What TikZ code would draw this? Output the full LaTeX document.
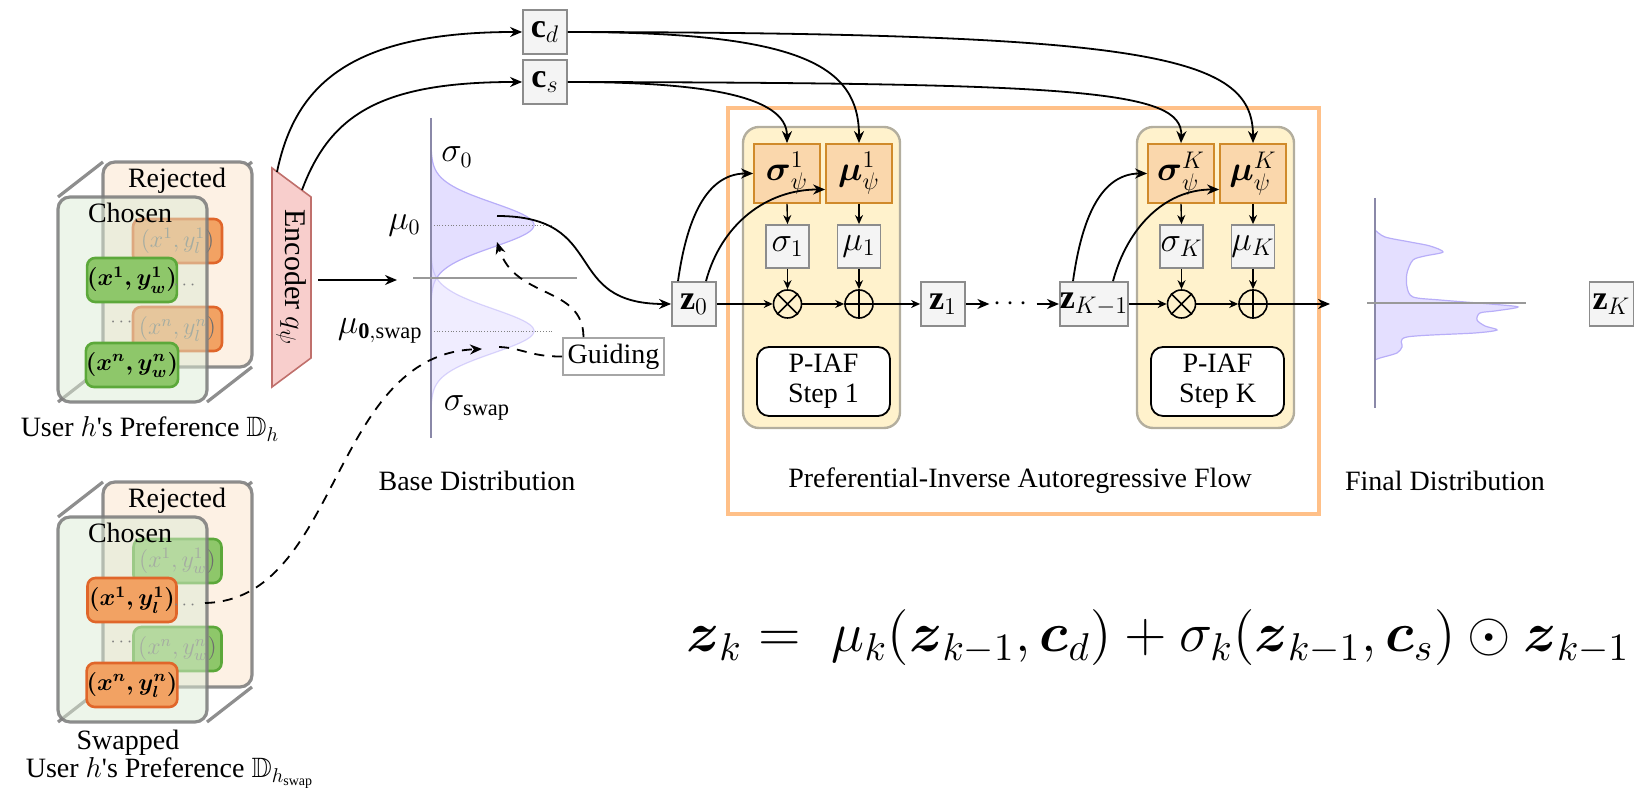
\documentclass[tikz,border=0pt]{standalone}
\usepackage{amsmath,amssymb}
\usepackage{graphicx}
\usepackage{fontspec}
\setmainfont{Liberation Serif}
\usetikzlibrary{arrows.meta,calc}
\definecolor{boxgray}{HTML}{8C8C8C}
\definecolor{boxfill}{HTML}{F4F4F4}
\definecolor{obrd}{HTML}{D08A2A}
\definecolor{ofill}{HTML}{FAD7AC}
\definecolor{stepfill}{HTML}{FFF2CC}
\definecolor{stepbrd}{HTML}{B3AE9E}
\definecolor{flowc}{HTML}{FFC088}
\definecolor{lav}{HTML}{E4DFFF}
\definecolor{lavedge}{HTML}{B8AEF8}
\definecolor{axisc}{HTML}{8A88A8}
\definecolor{encfill}{HTML}{F8CECC}
\definecolor{encbrd}{HTML}{C0706C}
\definecolor{facegray}{HTML}{7A7A7A}
\definecolor{backfill}{HTML}{FDF1E4}
\definecolor{frontfill}{HTML}{DCEBD5}
\definecolor{pairofill}{HTML}{F2A263}
\definecolor{pairobrd}{HTML}{E0662A}
\definecolor{pairgfill}{HTML}{8EC76A}
\definecolor{pairgbrd}{HTML}{5CA83A}
\definecolor{backtext}{HTML}{6E6E6E}
\begin{document}
\begin{tikzpicture}[x=0.5pt,y=0.5pt,
  font=\fontsize{14}{16}\selectfont,
  arr/.style={-{Stealth[length=6pt,width=5pt]}, line width=0.9pt},
  sarr/.style={-{Stealth[length=4.5pt,width=4pt]}, line width=0.7pt},
  dsh/.style={dash pattern=on 5pt off 4pt, line width=0.9pt},
  gbox/.style={draw=boxgray, fill=boxfill, line width=0.9pt, inner sep=0pt, minimum width=22pt, minimum height=22pt, font=\fontsize{17}{19}\selectfont},
  obox/.style={draw=obrd, fill=ofill, line width=0.9pt, inner sep=0pt, minimum width=33pt, minimum height=29.5pt, font=\fontsize{17}{19}\selectfont},
  ibox/.style={gbox, minimum width=21.5pt, minimum height=21.5pt},
  opcirc/.style={circle, draw, line width=0.8pt, minimum size=14pt, inner sep=0pt},
  stepblk/.style={draw=stepbrd, fill=stepfill, line width=1.2pt, rounded corners=8pt, minimum width=78.5pt, minimum height=150.5pt},
  pbox/.style={draw, fill=white, line width=0.9pt, rounded corners=6pt, minimum width=66.5pt, minimum height=34.5pt, align=center, inner sep=0pt, font=\fontsize{14}{15}\selectfont},
  face/.style={line width=1.6pt, draw=facegray, draw opacity=0.85},
  pairo/.style={draw=pairobrd, fill=pairofill, line width=1.3pt, rounded corners=4pt, minimum width=44.5pt, minimum height=22pt, inner sep=0pt, font=\fontsize{12}{14}\selectfont},
  pairg/.style={draw=pairgbrd, fill=pairgfill, line width=1.3pt, rounded corners=4pt, minimum width=44pt, minimum height=22pt, inner sep=0pt, font=\fontsize{12}{14}\selectfont},
  mlabel/.style={font=\fontsize{16}{18}\selectfont, inner sep=1pt},
  flowframe/.style={draw=flowc, line width=1.6pt}
]
\useasboundingbox (0,0) rectangle (1637,795);

% ---------- Cube 1 ----------
\draw[face] (58,598) -- (103,633);
\draw[face] (207,598) -- (252,633);
\draw[face] (207,393) -- (252,428);
\draw[face] (58,393) -- (103,428);
\filldraw[face, fill=backfill, rounded corners=6pt] (103,428) rectangle (252,633);
\node (rej1) at (177,614) {Rejected};
\node[pairo, text=backtext] (b11) at (177.5,554) {$(x^1, y_l^1)$};
\node[pairo, text=backtext] (b12) at (177.5,466) {$(x^n, y_l^n)$};
\filldraw[face, fill=frontfill, fill opacity=0.5, rounded corners=6pt] (58,393) rectangle (207,598);
\node (cho1) at (130,582) {Chosen};
\node[pairg] (f11) at (132,515) {$\boldsymbol{(x^1, y_w^1)}$};
\node[pairg] (f12) at (132,430) {$\boldsymbol{(x^n, y_w^n)}$};
\node[text=gray, font=\fontsize{9}{10}\selectfont, inner sep=1pt] (d11) at (186,510) {$\cdots$};
\node[text=gray, font=\fontsize{9}{10}\selectfont, inner sep=1pt] (d12) at (123,473) {$\cdots$};
\node (lab1) at (150,366) {User $h$\textquotesingle s Preference $\mathbb{D}_h$};

% ---------- Cube 2 ----------
\draw[face] (58,278) -- (103,313);
\draw[face] (207,278) -- (252,313);
\draw[face] (207,73) -- (252,108);
\draw[face] (58,73) -- (103,108);
\filldraw[face, fill=backfill, rounded corners=6pt] (103,108) rectangle (252,313);
\node (rej2) at (177,294) {Rejected};
\node[pairg, text=backtext] (b21) at (177.5,234) {$(x^1, y_w^1)$};
\node[pairg, text=backtext] (b22) at (177.5,146) {$(x^n, y_w^n)$};
\filldraw[face, fill=frontfill, fill opacity=0.5, rounded corners=6pt] (58,73) rectangle (207,278);
\node (cho2) at (130,262) {Chosen};
\node[pairo] (f21) at (132,195) {$\boldsymbol{(x^1, y_l^1)}$};
\node[pairo] (f22) at (132,110) {$\boldsymbol{(x^n, y_l^n)}$};
\node[text=gray, font=\fontsize{9}{10}\selectfont, inner sep=1pt] (d21) at (186,190) {$\cdots$};
\node[text=gray, font=\fontsize{9}{10}\selectfont, inner sep=1pt] (d22) at (123,153) {$\cdots$};
\node (sw2) at (128,52) {Swapped};
\node (lab2) at (170,22) {User $h$\textquotesingle s Preference $\mathbb{D}_{h_{\mathrm{swap}}}$};

% ---------- Encoder ----------
\filldraw[fill=encfill, draw=encbrd, line width=0.8pt] (272,627) -- (311,598) -- (311,437) -- (272,408) -- cycle;
\node[rotate=-90, font=\fontsize{15}{17}\selectfont] (enc) at (291.5,517.5) {Encoder $q_\psi$};
\coordinate (e1) at (277,623);
\coordinate (e2) at (302,605);
\coordinate (encout) at (318,515);
\coordinate (bdin) at (397,515);
\draw[arr] (encout) -- (bdin);

% ---------- c boxes ----------
\node[gbox] (cd) at (545,763) {$\mathbf{c}_d$};
\node[gbox] (cs) at (545,713) {$\mathbf{c}_s$};
\draw[arr] (e1) .. controls (295,710) and (350,763) .. (cd.west);
\draw[arr] (e2) .. controls (330,680) and (380,713) .. (cs.west);

% ---------- Base distribution ----------
\fill[lav] (431,495) -- plot[domain=495:645, samples=80] ({431+103*exp(-((\x-570)^2)/968)}, \x) -- (431,645) -- cycle;
\draw[lavedge, line width=0.6pt] plot[domain=495:645, samples=80] ({431+103*exp(-((\x-570)^2)/968)}, \x);
\fill[lav, fill opacity=0.55] (431,389) -- plot[domain=389:539, samples=80] ({431+103*exp(-((\x-464)^2)/968)}, \x) -- (431,539) -- cycle;
\draw[lavedge, draw opacity=0.5, line width=0.6pt] plot[domain=389:539, samples=80] ({431+103*exp(-((\x-464)^2)/968)}, \x);
\draw[gray, line width=0.4pt, densely dotted] (431,570) -- (552,570);
\draw[gray, line width=0.4pt, densely dotted] (431,464) -- (552,464);
\draw[axisc, line width=0.9pt] (431,677) -- (431,357);
\draw[gray!80, line width=0.9pt] (413,517) -- (577,517);
\node[mlabel, anchor=east] (mu0) at (423,570) {$\mu_0$};
\node[mlabel, anchor=east] (mu0s) at (425,464) {$\mu_{\mathbf{0,}\mathrm{swap}}$};
\node[mlabel] (sig0) at (457,638) {$\sigma_0$};
\node[mlabel] (sigs) at (477,387) {$\sigma_{\mathrm{swap}}$};
\node (bdl) at (477,314) {Base Distribution};
\coordinate (g0) at (497,579);

% Guiding
\node[draw=gray!70, fill=white, line width=0.8pt, minimum width=50.5pt, minimum height=18.5pt, inner sep=0pt] (guid) at (613.5,438.5) {Guiding};
\coordinate (gtip) at (497,553);
\coordinate (gend) at (497,448);
\draw[dsh, -{Stealth[length=6pt,width=5pt]}] ([xshift=-15pt]guid.north) .. controls (583,510) and (515,495) .. (gtip);
\draw[dsh] (guid.west) .. controls (530,438) and (520,448) .. (gend);
\coordinate (swst) at (205,192);
\coordinate (swtip) at (482,446);
\draw[dsh, -{Stealth[length=6pt,width=5pt]}] (swst) .. controls (340,195) and (330,440) .. (swtip);

% ---------- z0 ----------
\node[gbox] (z0) at (694,491) {$\mathbf{z}_0$};
\draw[arr] (g0) .. controls (610,579) and (560,491) .. (z0.west);

% ---------- Flow frame ----------
\draw[flowframe] (728,687) rectangle (1319,281);
\node (flowl) at (1020,314) {Preferential-Inverse Autoregressive Flow};

% Step 1
\node[stepblk] (st1) at (821.5,517.5) {};
\node[obox] (s1) at (787,621.5) {$\boldsymbol{\sigma}_\psi^1$};
\node[obox] (mp1) at (859,621.5) {$\boldsymbol{\mu}_\psi^1$};
\node[ibox] (sg1) at (787.5,548.5) {$\sigma_1$};
\node[ibox] (mu1) at (859,548.5) {$\mu_1$};
\node[opcirc] (x1) at (787.5,491) {};
\node[opcirc] (p1) at (859,491) {};
\draw[line width=0.8pt] (x1.north east) -- (x1.south west) (x1.north west) -- (x1.south east);
\draw[line width=0.8pt] (p1.north) -- (p1.south) (p1.west) -- (p1.east);
\node[pbox] (pf1) at (823.5,413.5) {P-IAF\\Step 1};
\draw[sarr] (s1.south) -- (sg1.north);
\draw[sarr] (mp1.south) -- (mu1.north);
\draw[sarr] (sg1.south) -- (x1.north);
\draw[sarr] (mu1.south) -- (p1.north);
\draw[sarr] (z0.east) -- (x1.west);
\draw[sarr] (x1.east) -- (p1.west);

% Step K
\node[stepblk] (stK) at (1215.5,517.5) {};
\node[obox] (sK) at (1181,621.5) {$\boldsymbol{\sigma}_\psi^K$};
\node[obox] (mpK) at (1253,621.5) {$\boldsymbol{\mu}_\psi^K$};
\node[ibox] (sgK) at (1181.5,548.5) {$\sigma_K$};
\node[ibox] (muK) at (1253,548.5) {$\mu_K$};
\node[opcirc] (xK) at (1181.5,491) {};
\node[opcirc] (pK) at (1253,491) {};
\draw[line width=0.8pt] (xK.north east) -- (xK.south west) (xK.north west) -- (xK.south east);
\draw[line width=0.8pt] (pK.north) -- (pK.south) (pK.west) -- (pK.east);
\node[pbox] (pfK) at (1217.5,413.5) {P-IAF\\Step K};
\draw[sarr] (sK.south) -- (sgK.north);
\draw[sarr] (mpK.south) -- (muK.north);
\draw[sarr] (sgK.south) -- (xK.north);
\draw[sarr] (muK.south) -- (pK.north);
\draw[sarr] (xK.east) -- (pK.west);

% z chain
\node[gbox] (z1) at (943,491) {$\mathbf{z}_1$};
\node[inner sep=2pt] (dots) at (1013,491) {$\cdots$};
\node[gbox, minimum width=33pt] (zk1) at (1094,491) {$\mathbf{z}_{K-1}$};
\draw[sarr] (p1.east) -- (z1.west);
\draw[arr] (z1.east) -- (dots.west);
\draw[arr] (dots.east) -- (zk1.west);
\draw[sarr] (zk1.east) -- (xK.west);
\coordinate (outK) at (1330,491);
\draw[arr] (pK.east) -- (outK);

% z -> psi boxes
\draw[arr] ([xshift=-8pt]z0.north) to[out=82, in=180] (s1.west);
\draw[arr] ([xshift=6pt]z0.north) to[out=75, in=180] ([yshift=-8pt]mp1.west);
\draw[arr] ([xshift=-10.5pt]zk1.north) to[out=82, in=180] (sK.west);
\draw[arr] ([xshift=9.5pt]zk1.north) to[out=75, in=180] ([yshift=-8pt]mpK.west);

% c -> psi boxes
\draw[arr] (cs.east) .. controls (700,713) and (787,700) .. (s1.north);
\draw[arr] (cd.east) .. controls (800,763) and (859,730) .. (mp1.north);
\draw[arr] (cs.east) .. controls (1080,712) and (1183,705) .. (sK.north);
\draw[arr] (cd.east) .. controls (1150,762) and (1253,740) .. (mpK.north);

% ---------- Final distribution ----------
\fill[lav] plot[smooth, tension=0.5] coordinates {(1375,565) (1385,558) (1410,553) (1430,549) (1443,543) (1425,539) (1413,535) (1407,522) (1407,508) (1413,498) (1440,495) (1490,491) (1518,488) (1495,484) (1480,482) (1477,475) (1485,469) (1497,465) (1475,462) (1407,458) (1402,448) (1397,442) (1380,437) (1375,435)} -- cycle;
\draw[lavedge, line width=0.6pt] plot[smooth, tension=0.5] coordinates {(1375,565) (1385,558) (1410,553) (1430,549) (1443,543) (1425,539) (1413,535) (1407,522) (1407,508) (1413,498) (1440,495) (1490,491) (1518,488) (1495,484) (1480,482) (1477,475) (1485,469) (1497,465) (1475,462) (1407,458) (1402,448) (1397,442) (1380,437) (1375,435)};
\draw[axisc, line width=0.9pt] (1375,597) -- (1375,387);
\draw[gray!80, line width=0.6pt] (1367,492) -- (1526,492);
\node (fdl) at (1445,314) {Final Distribution};
\node[gbox] (zK) at (1611.5,491) {$\mathbf{z}_K$};

% ---------- Equation ----------
\node[inner sep=0pt] (eq) at (1158,157) {\resizebox{472pt}{!}{$\boldsymbol{z}_k =\; \mu_k(\boldsymbol{z}_{k-1}, \boldsymbol{c}_d) + \sigma_k(\boldsymbol{z}_{k-1}, \boldsymbol{c}_s) \odot \boldsymbol{z}_{k-1}$}};
\end{tikzpicture}
\end{document}
